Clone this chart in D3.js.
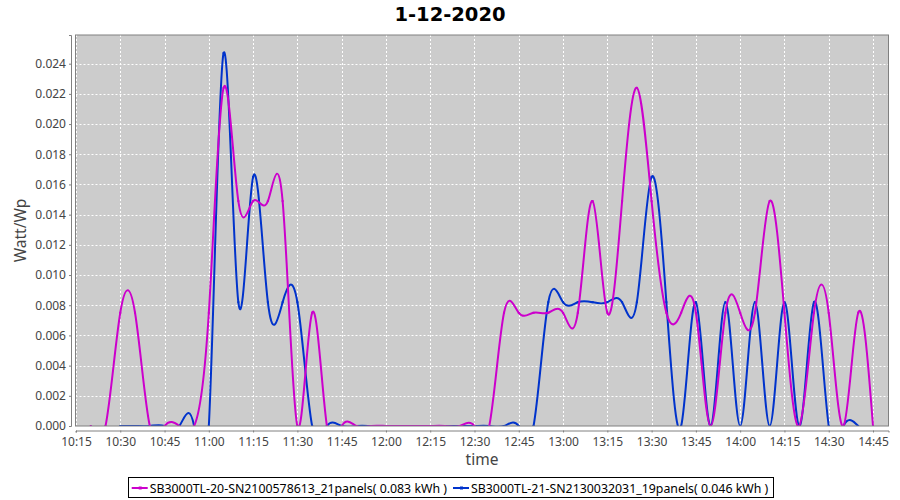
<!DOCTYPE html>
<html><head><meta charset="utf-8">
<script src="https://cdn.jsdelivr.net/npm/d3@7"></script>
<style>body{margin:0;background:#fff}</style>
</head><body><svg id="c" width="900" height="500"></svg>
<script>
const chartTitle = "1-12-2020";
const xLabel = "time";
const yLabel = "Watt/Wp";
const seriesNames = ["SB3000TL-20-SN2100578613_21panels( 0.083 kWh )",
                     "SB3000TL-21-SN2130032031_19panels( 0.046 kWh )"];
const seriesColors = ["#CC00CC", "#0033CC"];

const timesA = ["10:20","10:25","10:30","10:35","10:40","10:45","10:50","10:55",
  "11:00","11:05","11:10","11:15","11:20","11:25","11:30","11:35","11:40","11:45","11:50","11:55",
  "12:00","12:05","12:10","12:15","12:20","12:25","12:30","12:35","12:40","12:45","12:50","12:55",
  "13:00","13:05","13:10","13:15","13:20","13:25","13:30","13:35","13:40","13:45","13:50","13:55",
  "14:00","14:05","14:10","14:15","14:20","14:25","14:30","14:35","14:40","14:45"];
const valuesA = [0,0,0.0075,0.0075,0,0,0,0,
  0.0075,0.0224,0.0149,0.0149,0.0149,0.0149,0,0.0075,0,0,0,0,
  0,0,0,0,0,0,0,0,0.0075,0.0075,0.0075,0.0075,
  0.0075,0.0075,0.0149,0.0075,0.0149,0.0224,0.0149,0.0075,0.0075,0.0075,0,0.0075,
  0.0075,0.0075,0.0149,0.0075,0,0.0075,0.0075,0,0.0075,0];

const timesB = ["10:30","10:35","10:40","10:45","10:50","10:55",
  "11:00","11:05","11:10","11:15","11:20","11:25","11:30","11:35","11:40","11:45","11:50","11:55",
  "12:00","12:05","12:10","12:15","12:20","12:25","12:30","12:35","12:40","12:45","12:50","12:55",
  "13:00","13:05","13:10","13:15","13:20","13:25","13:30","13:35","13:40","13:45","13:50","13:55",
  "14:00","14:05","14:10","14:15","14:20","14:25","14:30","14:35","14:40"];
const valuesB = [0,0,0,0,0,0,
  0,0.0247,0.0082,0.0165,0.0082,0.0082,0.0082,0,0,0,0,0,
  0,0,0,0,0,0,0,0,0,0,0,0.0082,
  0.0082,0.0082,0.0082,0.0082,0.0082,0.0082,0.0165,0.0082,0,0.0082,0,0.0082,
  0,0.0082,0,0.0082,0,0.0082,0,0,0];

const xTicks = ["10:15","10:30","10:45","11:00","11:15","11:30","11:45","12:00","12:15","12:30",
  "12:45","13:00","13:15","13:30","13:45","14:00","14:15","14:30","14:45"];
const yTicks = [0,0.002,0.004,0.006,0.008,0.010,0.012,0.014,0.016,0.018,0.020,0.022,0.024];
const xDomain = ["10:14:50","14:50:15"];
const yMax = 0.0259;

const parse = s => { const p = s.split(":").map(Number); return new Date(2020,11,1,p[0],p[1],p[2]||0); };

const FONT = "'Noto Sans', 'DejaVu Sans', sans-serif";
const svg = d3.select("#c");
const L = 75.5, R = 888.5, T = 35, B = 426;

const x = d3.scaleTime().domain(xDomain.map(parse)).range([L, R]);
const y = d3.scaleLinear().domain([0, yMax]).range([B, T]);

// plot background
svg.append("rect").attr("x", L).attr("y", T).attr("width", R - L).attr("height", B - T)
  .attr("fill", "#cccccc");

// gridlines
const grid = svg.append("g");
xTicks.forEach(t => {
  const xx = Math.round(x(parse(t))) + 0.5;
  grid.append("line").attr("x1", xx).attr("x2", xx).attr("y1", T).attr("y2", B)
    .attr("stroke", "#ffffff").attr("stroke-width", 1).attr("stroke-dasharray", "2,2");
});
yTicks.forEach(v => {
  const yy = Math.round(y(v)) + 0.5;
  grid.append("line").attr("x1", L).attr("x2", R).attr("y1", yy).attr("y2", yy)
    .attr("stroke", "#ffffff").attr("stroke-width", 1).attr("stroke-dasharray", "2,2");
});

// clip
svg.append("clipPath").attr("id", "plotclip").append("rect")
  .attr("x", L).attr("y", T).attr("width", R - L).attr("height", B - T);

const line = d3.line().x(d => x(d.t)).y(d => y(d.v)).curve(d3.curveNatural);
const dataA = timesA.map((t, i) => ({t: parse(t), v: valuesA[i]}));
const dataB = timesB.map((t, i) => ({t: parse(t), v: valuesB[i]}));

const plotG = svg.append("g").attr("clip-path", "url(#plotclip)");
[[dataB, seriesColors[1]], [dataA, seriesColors[0]]].forEach(([d, c]) => {
  plotG.append("path").datum(d).attr("d", line).attr("fill", "none")
    .attr("stroke", c).attr("stroke-width", 2).attr("stroke-linejoin", "round");
  plotG.selectAll(null).data(d).enter().append("rect")
    .attr("x", p => x(p.t) - 1).attr("y", p => y(p.v) - 1).attr("width", 2).attr("height", 2)
    .attr("fill", c);
});

// plot outline
svg.append("rect").attr("x", L).attr("y", T).attr("width", R - L).attr("height", B - T)
  .attr("fill", "none").attr("stroke", "#808080").attr("stroke-width", 1);

// Y axis
const yAxis = d3.axisLeft(y).tickValues(yTicks).tickFormat(d3.format(".3f")).tickSizeOuter(0).tickSize(2).tickPadding(3);
const yg = svg.append("g").attr("transform", "translate(71,0)").call(yAxis);
yg.select(".domain").attr("stroke", "#808080");
yg.selectAll(".tick line").attr("stroke", "#808080");
yg.selectAll(".tick text").attr("fill", "#444444").style("font-family", FONT).style("font-size", "12px");

// X axis
const xAxis = d3.axisBottom(x).tickValues(xTicks.map(parse)).tickFormat(d3.timeFormat("%H:%M")).tickSizeOuter(0).tickSize(2).tickPadding(5);
const xg = svg.append("g").attr("transform", "translate(0,430.5)").call(xAxis);
xg.select(".domain").attr("stroke", "#808080");
xg.selectAll(".tick line").attr("stroke", "#808080");
xg.selectAll(".tick text").attr("fill", "#444444").style("font-family", FONT).style("font-size", "12px");

// axis labels
svg.append("text").attr("x", (L + R) / 2).attr("y", 465).attr("text-anchor", "middle")
  .attr("fill", "#444444").style("font-family", FONT).style("font-size", "15.5px").text(xLabel);
svg.append("text").attr("transform", `translate(26,${(T + B) / 2}) rotate(-90)`).attr("text-anchor", "middle")
  .attr("fill", "#444444").style("font-family", FONT).style("font-size", "15.5px").text(yLabel);

// title
svg.append("text").attr("x", 450).attr("y", 21).attr("text-anchor", "middle")
  .attr("fill", "#000000").style("font-family", "'DejaVu Sans', sans-serif").style("font-weight", "bold").style("font-size", "19.5px")
  .text(chartTitle);

// legend
const lg = svg.append("g");
const items = lg.append("g");
let cx = 0;
seriesNames.forEach((n, i) => {
  const g = items.append("g").attr("transform", `translate(${cx},0)`);
  g.append("line").attr("x1", 0).attr("x2", 16).attr("y1", 0).attr("y2", 0)
    .attr("stroke", seriesColors[i]).attr("stroke-width", 2);
  g.append("rect").attr("x", 7).attr("y", -1.5).attr("width", 3).attr("height", 3).attr("fill", seriesColors[i]);
  const tx = g.append("text").attr("x", 18).attr("y", 4.5).attr("fill", "#000")
    .style("font-family", FONT).style("font-size", "12.35px").text(n);
  cx += 18 + tx.node().getComputedTextLength() + 6;
});
const totalW = cx - 6;
const lx = 450 - totalW / 2;
items.attr("transform", `translate(${lx},488)`);
lg.insert("rect", ":first-child").attr("x", Math.round(lx - 4) + 0.5).attr("y", 477.5)
  .attr("width", Math.round(totalW + 8)).attr("height", 20)
  .attr("fill", "#fff").attr("stroke", "#000").attr("stroke-width", 1);
</script></body></html>
